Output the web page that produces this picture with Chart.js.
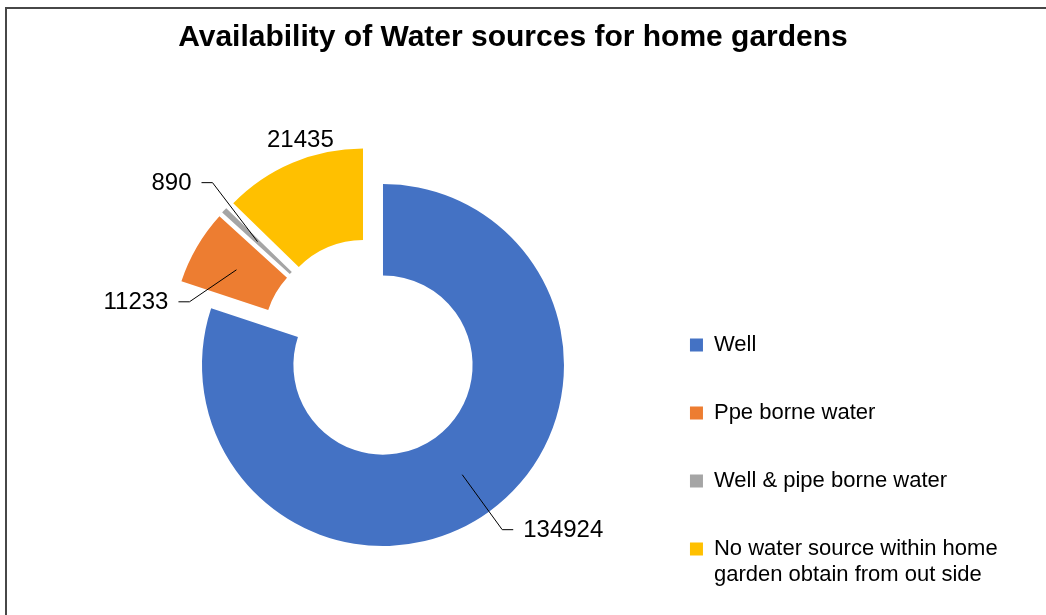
<!DOCTYPE html>
<html>
<head>
<meta charset="utf-8">
<script src="https://cdn.jsdelivr.net/npm/chart.js@4.4.1/dist/chart.umd.min.js"></script>
<style>
    html, body { margin: 0; padding: 0; width: 1046px; height: 615px; overflow: hidden; background: #fff; }
    #marco {
        position: absolute; left: 5px; top: 7px; width: 1050px; height: 608px;
        border-left: 2px solid #474747; border-top: 2px solid #474747; overflow: hidden;
    }
    #titulo {
        position: absolute; left: 0; top: 18px; width: 1026px; text-align: center;
        font: bold 30px "Liberation Sans", Arial, sans-serif; line-height: 36px; color: #000;
    }
    canvas { display: block; }
</style>
</head>
<body>
<div id="marco"><canvas id="grafica" width="1014" height="640"></canvas></div>
<div id="titulo">Availability of Water sources for home gardens</div>
<script>
// --- DATOS ---
const categorias = ['Well', 'Ppe borne water', 'Well & pipe borne water',
    ['No water source within home', 'garden obtain from out side']];
const hogares = [134924, 11233, 890, 21435];
const colores = ['#4472C4', '#ED7D31', '#A5A5A5', '#FFC000'];

// posición de las etiquetas respecto al centro de cada porción
const desvioEtiqueta = [[40, 55], [-47, 32], [-45, -59], [-10, -65]];
const ladoEtiqueta = [1, -1, -1, 0];   // 0 = sin línea guía

const FUENTE = '"Liberation Sans", Arial, sans-serif';
const SEPARACION = 20.5;   // porciones "explotadas" como en Excel

Chart.defaults.font.family = FUENTE;

// Desplaza cada porción hacia afuera según su ángulo medio
const explotar = {
    id: 'explotar',
    afterLayout(chart) {
        // la leyenda mide sólo una línea del texto de dos líneas: no recortar
        if (chart.legend) chart.legend.right = chart.width;
    },
    afterDatasetsUpdate(chart) {
        chart.getDatasetMeta(0).data.forEach(arc => {
            const medio = (arc.startAngle + arc.endAngle) / 2;
            arc.x += Math.cos(medio) * SEPARACION;
            arc.y += Math.sin(medio) * SEPARACION;
        });
    }
};

// Etiquetas de valores con línea guía
const etiquetas = {
    id: 'etiquetas',
    afterDatasetsDraw(chart) {
        const ctx = chart.ctx;
        const valores = chart.data.datasets[0].data;
        ctx.save();
        ctx.font = '24px ' + FUENTE;
        ctx.fillStyle = '#000';
        ctx.strokeStyle = '#000';
        ctx.lineWidth = 1;
        ctx.textBaseline = 'middle';
        chart.getDatasetMeta(0).data.forEach((arc, i) => {
            const medio = (arc.startAngle + arc.endAngle) / 2;
            const rm = (arc.innerRadius + arc.outerRadius) / 2;
            const ax = arc.x + Math.cos(medio) * rm;
            const ay = arc.y + Math.sin(medio) * rm;
            const [dx, dy] = desvioEtiqueta[i];
            const lado = ladoEtiqueta[i];
            const texto = String(valores[i]);
            if (lado === 0) {
                ctx.textAlign = 'center';
                ctx.fillText(texto, ax + dx, ay + dy);
                return;
            }
            const ex = ax + dx, ey = ay + dy;
            ctx.beginPath();
            ctx.moveTo(ax, ay);
            ctx.lineTo(ex, ey);
            ctx.lineTo(ex + lado * 11, ey);
            ctx.stroke();
            ctx.textAlign = lado > 0 ? 'left' : 'right';
            ctx.fillText(texto, ex + lado * 21, ey + 1);
        });
        ctx.restore();
    }
};

new Chart(document.getElementById('grafica'), {
    type: 'doughnut',
    data: {
        labels: categorias,
        datasets: [{
            data: hogares,
            backgroundColor: colores,
            borderWidth: 0,
            hoverOffset: 0,
            clip: false
        }]
    },
    options: {
        responsive: false,
        animation: false,
        devicePixelRatio: 1,
        radius: 181,
        cutout: '49.5%',
        layout: { padding: { left: 91, right: 29.2, top: 51, bottom: 12.2 } },
        plugins: {
            title: { display: false },
            legend: {
                position: 'right',
                align: 'end',
                labels: {
                    boxWidth: 13,
                    boxHeight: 13,
                    padding: 46,
                    color: '#000',
                    font: { size: 22 }
                }
            },
            tooltip: { enabled: false }
        }
    },
    plugins: [explotar, etiquetas]
});
</script>
</body>
</html>
